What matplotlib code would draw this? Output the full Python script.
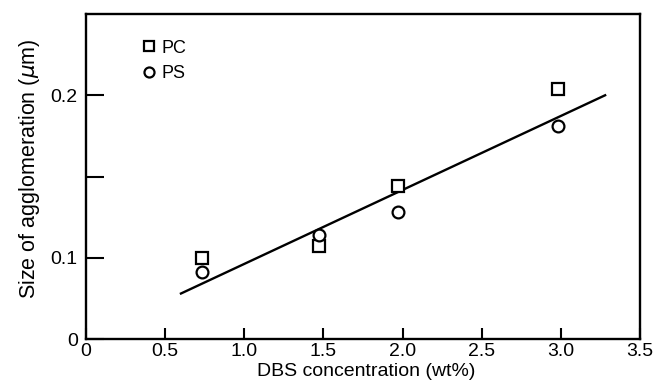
import matplotlib
matplotlib.use("Agg")
import matplotlib.pyplot as plt

plt.rcParams['font.family'] = ['Liberation Sans', 'DejaVu Sans']

# data (y axis is broken: bottom labelled "0")
pc_x = [0.73, 1.47, 1.97, 2.98]
pc_y = [0.100, 0.107, 0.144, 0.204]
ps_x = [0.73, 1.47, 1.97, 2.98]
ps_y = [0.0915, 0.114, 0.128, 0.181]
fit_x = [0.6, 3.28]
fit_y = [0.078, 0.200]

x_ticks = [0, 0.5, 1.0, 1.5, 2.0, 2.5, 3.0, 3.5]
x_labels = ['0', '0.5', '1.0', '1.5', '2.0', '2.5', '3.0', '3.5']
y_ticks = [0.05, 0.10, 0.15, 0.20]
y_labels = ['0', '0.1', '', '0.2']

fig = plt.figure(figsize=(6.53, 3.89), dpi=100)
ax = fig.add_axes([0.1317, 0.1285, 0.8483, 0.8355])

ax.plot(fit_x, fit_y, color='black', lw=1.7)
ax.plot(pc_x, pc_y, ls='none', marker='s', ms=8.5, mfc='white', mec='black',
        mew=1.6, label='PC')
ax.plot(ps_x, ps_y, ls='none', marker='o', ms=8.5, mfc='white', mec='black',
        mew=1.6, label='PS')

ax.set_xlim(0, 3.5)
ax.set_ylim(0.05, 0.25)
ax.set_xticks(x_ticks)
ax.set_xticklabels(x_labels)
ax.set_yticks(y_ticks)
ax.set_yticklabels(y_labels)
ax.tick_params(axis='x', direction='in', length=8, width=1.5, labelsize=14, pad=3)
ax.tick_params(axis='y', direction='in', length=13, width=1.5, labelsize=14, pad=6)
for sp in ax.spines.values():
    sp.set_linewidth(1.7)

ax.set_xlabel('DBS concentration (wt%)', fontsize=14)
ax.set_ylabel(r'Size of agglomeration ($\mu$m)', fontsize=15.5)
ax.xaxis.set_label_coords(0.505, -0.075)
ax.yaxis.set_label_coords(-0.08, 0.525)

ax.legend(loc='upper left', bbox_to_anchor=(0.085, 0.943), frameon=False,
          fontsize=13, handletextpad=0.15, labelspacing=0.45, borderaxespad=0,
          handlelength=1.0, markerscale=0.85)

fig.savefig('out.png', dpi=100)
